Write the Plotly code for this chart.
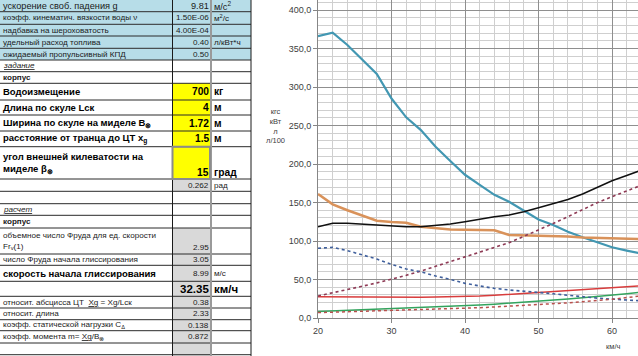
import plotly.graph_objects as go

# ---------------- chart data ----------------
speed = [20, 22, 24, 26, 28, 30, 32, 34, 36, 38, 40, 42, 44, 46, 48, 50, 52, 54, 56, 58, 60, 62, 64]
teal_vals = [366, 370.5, 354.5, 336, 317, 285, 260.6, 244, 222.5, 204, 186, 173, 160, 151, 139, 128, 120.8, 112, 104.8, 98, 91.8, 87.5, 83.5]
orange_vals = [161, 147.6, 140, 133, 126.4, 124.7, 123.8, 118.6, 116.5, 115, 114.7, 114, 114, 107.8, 107.4, 107, 106, 105.8, 104.5, 103.9, 103, 102.7, 102.5]
black_vals = [118.6, 123, 123, 122, 120.8, 119.5, 118.6, 118.6, 119.9, 122, 125, 128.6, 131.6, 133.8, 138, 143.3, 149, 154, 161, 169.7, 178.3, 185, 192]
red_vals = [27.7, 27.5, 27.3, 27, 27, 27, 27, 27, 27.2, 27.4, 27.7, 28.5, 29.4, 30.7, 32, 33, 34.6, 35.8, 37, 38.4, 39.8, 41, 42]
green_vals = [8.3, 9, 9.7, 10.4, 11, 11.7, 12.4, 13.2, 14, 14.8, 15.6, 16.8, 18, 19.2, 20.4, 21.6, 23, 24.7, 26.4, 27.9, 29.4, 31.5, 33.5]
maroon_dot_vals = [28.6, 32.5, 36.8, 41.2, 45.6, 50.2, 55.5, 61, 67, 72.8, 78.8, 85.3, 91.8, 97.8, 106, 114, 122.8, 131.6, 140.7, 149.8, 157.5, 165, 172.5]
blue_dot_vals = [90.5, 91.8, 87.5, 82, 76.6, 69.7, 63.6, 60, 54.5, 50.2, 45, 41.6, 38.5, 36.4, 35, 33.5, 31.5, 29.5, 27.5, 25.8, 24.5, 23.3, 22.3]
pink_dot_vals = [7, 7.5, 8, 8.5, 9, 9.5, 10, 10.7, 11.3, 12, 12.6, 13.4, 14.3, 15.2, 16.1, 17, 18.3, 19.7, 21.2, 22.6, 24.3, 26.5, 28.8]

y_title_lines = ["кгс", "кВт", "л", "л/100"]
x_title = "км/ч"

# ---------------- table data ----------------
row_labels = [
    "ускорение своб. падения g",
    "коэфф. кинематич. вязкости воды ν",
    "надбавка на шероховатость",
    "удельный расход топлива",
    "ожидаемый пропульсивный КПД",
    "задание",
    "корпус",
    "Водоизмещение",
    "Длина по скуле Lск",
    "Ширина по скуле на миделе B<sub>⊗</sub>",
    "расстояние от транца до ЦТ x<sub>g</sub>",
    "угол внешней килеватости на<br>миделе β<sub>⊗</sub>",
    "",
    "",
    "расчет",
    "корпус",
    "объемное число Фруда для ед. скорости<br>Fr<sub>v</sub>(1)",
    "число Фруда начала глиссирования",
    "скорость начала глиссирования",
    "",
    "относит. абсцисса ЦТ  <u>Xg</u> = Xg/Lск",
    "относит. длина",
    "коэфф. статической нагрузки C<sub>Δ</sub>",
    "коэфф. момента m= <u>Xg</u>/B<sub>⊗</sub>",
    "",
    "",
]
row_values = ["9.81", "1.50E-06", "4.00E-04", "0.40", "0.50", "", "", "700", "4", "1.72", "1.5", "15",
              "0.262", "", "", "", "2.95", "3.05", "8.99", "32.35", "0.38", "2.33", "0.138", "0.872", "", ""]
row_units = ["м/с<sup>2</sup>", "м<sup>2</sup>/с", "", "л/кВт*ч", "", "", "", "кг", "м", "м", "м", "град",
             "рад", "", "", "", "", "", "м/с", "км/ч", "", "", "", "", "", ""]

# ---------------- layout geometry (pixels) ----------------
FIG_W, FIG_H = 638, 356
PL, PR, PT, PB = 318, 638, 0, 318
X_PX_PER = 7.35
Y_PX_PER = 0.77
x_range = [20, 20 + (PR - PL) / X_PX_PER]
y_range = [0, (PB - PT) / Y_PX_PER]

ROW_Y = [0, 11.7, 24.3, 36, 48.3, 60, 71.7, 83.3, 100, 115, 131, 146.7, 179, 191.3, 203.7, 215.3, 228,
         254, 265.3, 281.3, 296.3, 308, 319.7, 330.7, 343, 354.7, 366]
C0, C1, C2, C3 = 0, 172.5, 211, 251

def fx(px):
    return (px - PL) / (PR - PL)

def fy(py):
    return (PB - py) / (PB - PT)

FONT = "Liberation Sans"
SMALL = 8.1
FIRST = 9.2
BIG = 9.5

shapes = []
annotations = []

def rect(x0, y0, x1, y1, fill, line_color=None, lw=0):
    shapes.append(dict(type="rect", xref="paper", yref="paper",
                       x0=fx(x0), x1=fx(x1), y0=fy(y1), y1=fy(y0),
                       fillcolor=fill, line=dict(width=lw, color=line_color or fill), layer="above"))

def line(x0, y0, x1, y1, color, w=1):
    shapes.append(dict(type="line", xref="paper", yref="paper",
                       x0=fx(x0), x1=fx(x1), y0=fy(y0), y1=fy(y1),
                       line=dict(color=color, width=w), layer="above"))

def text(px, py, s, size, anchor="left", bold=False, italic=False, color="#1a1a1a"):
    if not s:
        return
    if bold:
        s = "<b>" + s + "</b>"
    if italic:
        s = "<i>" + s + "</i>"
    annotations.append(dict(x=fx(px), y=fy(py), xref="paper", yref="paper", text=s, showarrow=False,
                            xanchor=anchor, yanchor="middle", align="left",
                            font=dict(family=FONT, size=size, color=color), borderpad=0))

# fills
BLUE = "#b7dde8"
YELLOW = "#ffff00"
GRAY = "#d9d9d9"
for i in range(5):
    rect(C0, ROW_Y[i], C3, ROW_Y[i + 1], BLUE)
for i in range(7, 12):
    rect(C1, ROW_Y[i], C2, ROW_Y[i + 1], YELLOW)
rect(C1, ROW_Y[12], C2, ROW_Y[13], GRAY)
for i in range(16, 26):
    rect(C1, ROW_Y[i], C2, ROW_Y[i + 1], GRAY)

# grid lines of the table
for yb in ROW_Y[1:-1]:
    line(C0, yb, C3, yb, "#2a2a2a", 1)
line(C1, 0, C1, FIG_H, "#1a1a1a", 1)
line(C3, 0, C3, FIG_H, "#1a1a1a", 1)
line(C2, 0, C2, FIG_H, "#9a9a9a", 2)
# selected cell frame
rect(C1, ROW_Y[11], C2 - 1, ROW_Y[12], "rgba(0,0,0,0)", "#8c8c8c", 2)

big_rows = {7, 8, 9, 10, 11, 18}
for i, lab in enumerate(row_labels):
    top, bot = ROW_Y[i], ROW_Y[i + 1]
    mid = (top + bot) / 2
    small = FIRST if i == 0 else SMALL
    if i in (5, 14):
        text(2, mid, "<u>" + lab + "</u>", small, italic=True)
    elif i in (6, 15):
        text(2, mid, lab, small, bold=True)
    elif i in big_rows:
        text(2, mid, lab, BIG, bold=True, color="#000000")
    else:
        text(2, mid, lab, small)
    val = row_values[i]
    unit = row_units[i]
    vy = mid
    if i in (11, 16):
        vy = bot - 6.5
    if i in (7, 8, 9, 10, 11):
        text(209.5, vy, val, BIG + 0.7, anchor="right", bold=True, color="#000000")
        text(213, vy, unit, BIG + 0.7, bold=True, color="#000000")
    elif i == 19:
        text(209.5, vy, val, BIG + 2, anchor="right", bold=True, color="#000000")
        text(213, vy, unit, BIG + 2, bold=True, color="#000000")
    else:
        text(209.5, vy, val, small, anchor="right")
        text(213, vy, unit, small)

# axis titles
annotations.append(dict(x=fx(275), y=fy(126), xref="paper", yref="paper",
                        text="<br>".join(y_title_lines), showarrow=False, align="center",
                        xanchor="center", yanchor="middle",
                        font=dict(family=FONT, size=7.5, color="#404040")))
annotations.append(dict(x=fx(613), y=fy(346), xref="paper", yref="paper", text=x_title, showarrow=False,
                        xanchor="center", yanchor="middle",
                        font=dict(family=FONT, size=7.5, color="#404040")))

fig = go.Figure()
series = [
    (teal_vals, "#4297b2", 2.2, "solid"),
    (orange_vals, "#d9925a", 2.6, "solid"),
    (black_vals, "#101010", 1.5, "solid"),
    (red_vals, "#d83c3c", 1.5, "solid"),
    (green_vals, "#33a45e", 1.5, "solid"),
    (maroon_dot_vals, "#8e3a55", 1.6, "dot"),
    (blue_dot_vals, "#3f5f9c", 1.6, "dot"),
    (pink_dot_vals, "#b8504d", 1.5, "dot"),
]
for vals, col, w, dash in series:
    fig.add_trace(go.Scatter(x=speed, y=vals, mode="lines",
                             line=dict(color=col, width=w, dash=dash), showlegend=False,
                             hoverinfo="skip"))

fig.update_layout(
    width=FIG_W, height=FIG_H,
    margin=dict(l=PL, r=FIG_W - PR, t=PT, b=FIG_H - PB),
    paper_bgcolor="white", plot_bgcolor="white",
    separators=", ",
    shapes=shapes, annotations=annotations,
    showlegend=False,
    font=dict(family=FONT),
)
fig.update_xaxes(range=x_range, dtick=10, tick0=0, showgrid=True, gridcolor="#8f8f8f", gridwidth=1,
                 minor=dict(dtick=2, showgrid=True, gridcolor="#cfcfcf", gridwidth=1),
                 showline=True, linecolor="#868686", ticks="outside", ticklen=4, tickcolor="#868686",
                 tickfont=dict(size=9, color="#404040", family=FONT), zeroline=False)
fig.update_yaxes(range=y_range, dtick=50, tick0=0, tickformat=".1f", showgrid=True, gridcolor="#8f8f8f",
                 gridwidth=1,
                 minor=dict(dtick=10, showgrid=True, gridcolor="#cfcfcf", gridwidth=1),
                 showline=True, linecolor="#868686", ticks="outside", ticklen=4, tickcolor="#868686",
                 tickfont=dict(size=9, color="#404040", family=FONT), zeroline=False)

fig.write_html("out.html", config={"displayModeBar": False},
               post_script="document.body.style.margin='0';")
